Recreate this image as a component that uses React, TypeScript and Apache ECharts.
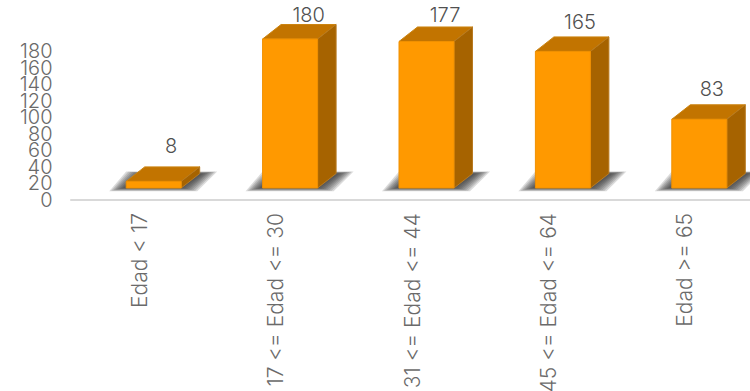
import React, { useEffect, useRef } from "react";
import * as echarts from "echarts";

const categories = ["Edad < 17", "17 <= Edad <= 30", "31 <= Edad <= 44", "45 <= Edad <= 64", "Edad >= 65"];
const values = [8, 180, 177, 165, 83];
const yMin = 0;
const yMax = 180;
const yInterval = 20;

// label placement relative to the bar's front top-centre (style only)
const labelDx = [17.5, 18.5, 18.5, 17, 12.5];
const labelLift = [35, 24, 26, 29, 30];

const FONT = "Inter, Lato, sans-serif";
const TEXT = "#6a6a6a";
const BAR_W = 55;
const SHIFT_X = 14.5; // bar centre vs. band centre
const LIFT = 12; // 3D floor sits above the axis line
const DX = 18.5;
const DY = 14.5;
const SHADOW_LAYERS = [7, 6, 5, 4, 3, 2, 1, 0];

const renderItem = (params: any, api: any) => {
  const i = api.value(0);
  const top = api.coord([i, api.value(1)]);
  const base = api.coord([i, 0]);
  const l = top[0] + SHIFT_X - BAR_W / 2;
  const r = l + BAR_W;
  const t = top[1] - LIFT;
  const b = base[1] - LIFT;
  const poly = (points: number[][], fill: string, stroke?: string) => ({
    type: "polygon",
    shape: { points },
    style: { fill, stroke: stroke || fill, lineWidth: stroke ? 1 : 0 },
  });
  const shadows = SHADOW_LAYERS.map((k) => ({
    type: "polygon",
    shape: {
      points: [
        [l - 3 - k * 2, b + k * 0.45],
        [r + 2 + k * 2, b + k * 0.45],
        [r + 22 + k * 2, b - 14.5 - k * 0.3],
        [l + 14 - k * 2, b - 14.5 - k * 0.3],
      ],
    },
    style: { fill: "rgba(40,40,40,0.17)" },
  }));
  return {
    type: "group",
    children: [
      ...shadows,
      poly([[l, t], [l + DX, t - DY], [r + DX, t - DY], [r, t]], "#C27400", "#CC8410"),
      poly([[r, t], [r + DX, t - DY], [r + DX, b - DY], [r, b]], "#A66300", "#B87A20"),
      {
        type: "rect",
        shape: { x: l, y: t, width: BAR_W, height: b - t },
        style: { fill: "#FF9900", stroke: "#F09000", lineWidth: 1 },
      },
      {
        type: "text",
        x: l + BAR_W / 2 + labelDx[i],
        y: t - labelLift[i],
        style: {
          text: String(api.value(1)),
          font: `300 20px ${FONT}`,
          fill: "#505050",
          align: "center",
          verticalAlign: "middle",
        },
      },
    ],
  };
};

const yAxisBase = (interval: number) => ({
  type: "value",
  position: "left",
  min: yMin,
  max: yMax,
  interval,
  splitLine: { show: false },
  axisLine: { show: false },
  axisTick: { show: false },
  axisLabel: {
    margin: 18.5,
    fontSize: 20,
    fontWeight: 300,
    fontFamily: FONT,
    color: TEXT,
    hideOverlap: false,
  },
});

export default function App() {
  const ref = useRef<HTMLDivElement>(null);
  useEffect(() => {
    document.body.style.margin = "0";
    const chart = echarts.init(ref.current!, undefined, { renderer: "svg" });
    chart.setOption({
      animation: false,
      backgroundColor: "#fff",
      grid: { left: 71, top: 51, width: 682, height: 149, containLabel: false, outerBoundsMode: "none" },
      xAxis: {
        type: "category",
        data: categories,
        axisTick: { show: false },
        axisLine: { lineStyle: { color: "#D9D9D9", width: 2 } },
        axisLabel: {
          rotate: 90,
          interval: 0,
          margin: 13,
          fontSize: 21,
          fontWeight: 300,
          fontFamily: FONT,
          color: TEXT,
          padding: [0, 0, 13, 0],
          hideOverlap: false,
        },
      },
      // the second axis only carries the two end labels, which the first would drop as crowded
      yAxis: [yAxisBase(yInterval), yAxisBase(yMax - yMin)],
      series: [
        {
          type: "custom",
          renderItem,
          clip: false,
          data: values.map((v, i) => [i, v]),
        },
      ],
    });
    return () => chart.dispose();
  }, []);
  return <div ref={ref} style={{ width: 750, height: 391 }} />;
}
